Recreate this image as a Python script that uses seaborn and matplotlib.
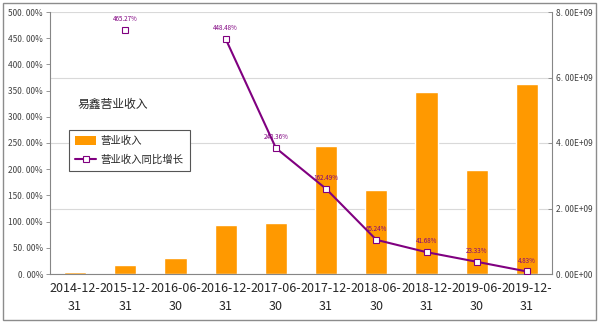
import numpy as np
import pandas as pd
import matplotlib
matplotlib.use("Agg")
import matplotlib.pyplot as plt
import seaborn as sns
from matplotlib.lines import Line2D
from matplotlib.patches import Patch, Rectangle
from matplotlib.ticker import FuncFormatter, FixedLocator

dates = ["2014-12-31", "2015-12-31", "2016-06-30", "2016-12-31", "2017-06-30",
         "2017-12-31", "2018-06-30", "2018-12-31", "2019-06-30", "2019-12-31"]
revenue = [0.07e9, 0.27e9, 0.49e9, 1.50e9, 1.56e9, 3.91e9, 2.56e9, 5.56e9, 3.18e9, 5.80e9]
growth = [np.nan, 465.27, np.nan, 448.48, 240.36, 162.49, 65.24, 41.68, 23.33, 4.83]
title = "易鑫营业收入"
bar_name = "营业收入"
line_name = "营业收入同比增长"

sns.set_style("white")
plt.rcParams['font.family'] = ['Noto Sans CJK SC', 'DejaVu Sans']

ORANGE = "#FF9900"
PURPLE = "#800080"
GRID = "#D9D9D9"
AXC = "#868686"

fig = plt.figure(figsize=(6, 3.25), dpi=100)
ax2 = fig.add_axes([50/600, 1-274/325, 502/600, 262/325])  # bars (right axis)
ax = ax2.twinx()

labels = [d[:8] + "\n" + d[8:] for d in dates]
df = pd.DataFrame({"date": labels, "revenue": revenue, "growth": growth})
sns.barplot(data=df, x="date", y="revenue", color=ORANGE, width=0.44,
            saturation=1, ax=ax2, zorder=2)
ax2.set_ylim(0, 8e9)
ax2.yaxis.set_major_locator(FixedLocator([0, 2e9, 4e9, 6e9, 8e9]))
ax2.yaxis.tick_right()
ax2.yaxis.set_label_position("right")
ax2.yaxis.set_major_formatter(FuncFormatter(lambda v, p: f"{v:.2E}".replace(".", ". ")))
ax2.grid(axis="y", color=GRID, linewidth=0.8)
ax2.set_axisbelow(True)
ax2.set_xlabel("")
ax2.set_ylabel("")
ax2.set_xlim(-0.5, 9.5)

ax.yaxis.tick_left()
ax.yaxis.set_label_position("left")
seg = [0 if i < 3 else 1 for i in range(len(dates))]
ldf = pd.DataFrame({"x": np.arange(len(dates)), "growth": growth, "seg": seg}).dropna()
sns.lineplot(data=ldf, x="x", y="growth", units="seg", estimator=None, color=PURPLE,
             linewidth=1.5, marker="s", markersize=4.5, markerfacecolor="white",
             markeredgecolor=PURPLE, markeredgewidth=0.8, ax=ax, zorder=5)
ax.set_ylim(0, 500)
ax.yaxis.set_major_locator(FixedLocator(np.arange(0, 501, 50)))
ax.yaxis.set_major_formatter(FuncFormatter(lambda v, p: f"{v:.2f}%".replace(".", ". ")))
ax.set_xlim(-0.5, 9.5)
ax.set_xlabel("")
ax.set_ylabel("")
for xi, g in zip(ldf["x"], ldf["growth"]):
    ax.annotate(f"{g:.2f}%", (xi, g), xytext=(0, 5), textcoords="offset points",
                ha="center", va="bottom", fontsize=4.5, color=PURPLE, zorder=6)

ax.set_zorder(ax2.get_zorder() + 1)
ax.patch.set_visible(False)

for a in (ax, ax2):
    for s in a.spines.values():
        s.set_visible(False)
for side in ("bottom", "right", "left"):
    ax2.spines[side].set_visible(True)
    ax2.spines[side].set_color(AXC)

ax.tick_params(axis="y", labelsize=6, colors="#404040", length=3, width=0.6, direction="out", pad=2)
ax.tick_params(axis="y", color=AXC)
ax2.tick_params(axis="y", labelsize=6, colors="#404040", length=3, width=0.6, direction="in", pad=3)
ax2.tick_params(axis="y", color=AXC)
ax.tick_params(axis="x", bottom=False, labelbottom=False)
ax2.set_xticks(np.arange(len(dates)))
ax2.set_xticklabels(labels)
ax2.xaxis.set_minor_locator(FixedLocator(np.arange(-0.5, 10, 1)))
ax2.tick_params(axis="x", which="major", length=0, labelsize=9, colors="#262626", pad=6)
ax2.tick_params(axis="x", which="minor", length=4, width=0.6, color=AXC, direction="out")
for t in ax2.get_xticklabels():
    t.set_linespacing(1.5)

fig.text(77/600, 1-104/325, title, fontsize=8.5, va="center", ha="left", color="#262626")

handles = [Patch(facecolor=ORANGE, edgecolor="none"),
           Line2D([0], [0], color=PURPLE, linewidth=1.5, marker="s", markersize=4,
                  markerfacecolor="white", markeredgecolor=PURPLE, markeredgewidth=0.8)]
leg = fig.legend(handles, [bar_name, line_name], loc="upper left",
                 bbox_to_anchor=(69/600, 1-130/325), borderaxespad=0, fontsize=7.5,
                 frameon=True, fancybox=False, edgecolor="#555555", framealpha=1,
                 handlelength=2.0, handleheight=0.9, borderpad=0.6, labelspacing=0.8,
                 handletextpad=0.4)
leg.get_frame().set_linewidth(0.8)

fig.patches.append(Rectangle((3/600, 5/325), 593/600, 317/325, transform=fig.transFigure,
                             fill=False, edgecolor="#8c8c8c", linewidth=1))

fig.savefig("out.png", dpi=100)
